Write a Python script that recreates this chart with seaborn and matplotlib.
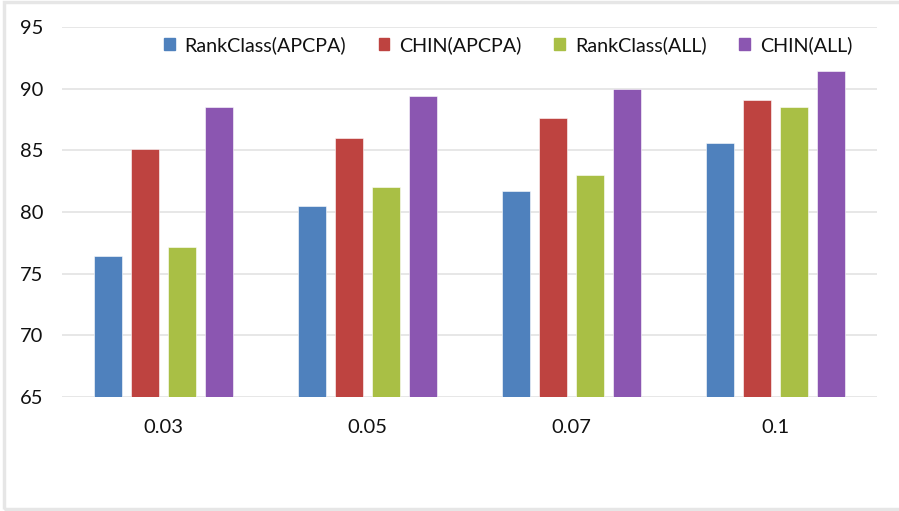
import matplotlib
matplotlib.use("Agg")
import matplotlib.pyplot as plt
import seaborn as sns
import pandas as pd
from matplotlib.patches import Rectangle

thresholds = ["0.03", "0.05", "0.07", "0.1"]
methods = ["RankClass(APCPA)", "CHIN(APCPA)", "RankClass(ALL)", "CHIN(ALL)"]
rankclass_apcpa = [76.4, 80.5, 81.7, 85.6]
chin_apcpa = [85.1, 86.0, 87.6, 89.1]
rankclass_all = [77.2, 82.0, 83.0, 88.5]
chin_all = [88.5, 89.4, 90.0, 91.4]
yticks = [65, 70, 75, 80, 85, 90, 95]

colors = ["#4F81BD", "#BE4340", "#A9BF45", "#8B56B1"]

series = [rankclass_apcpa, chin_apcpa, rankclass_all, chin_all]
rows = []
for m, vals in zip(methods, series):
    for t, v in zip(thresholds, vals):
        rows.append({"threshold": t, "method": m, "value": v})
df = pd.DataFrame(rows)

sns.set_theme(style="white")
plt.rcParams["font.family"] = ["Lato", "DejaVu Sans"]

fig = plt.figure(figsize=(8.99, 5.11), dpi=100)
ax = fig.add_axes([62 / 899, 114 / 511, 815 / 899, 370 / 511])

sns.barplot(data=df, x="threshold", y="value", hue="method", order=thresholds,
            hue_order=methods, palette=colors, width=0.726, gap=0.24,
            saturation=1, errorbar=None, ax=ax, legend=False, zorder=3,
            edgecolor="white", linewidth=0.4)

ax.set_ylim(65, 95)
ax.set_yticks(yticks)
ax.set_yticklabels([str(v) for v in yticks])
ax.set_xlim(-0.5, len(thresholds) - 0.5)
ax.set_xlabel("")
ax.set_ylabel("")
for s in ax.spines.values():
    s.set_visible(False)
ax.yaxis.grid(True, color="#e3e3e3", linewidth=1.2, zorder=0)
ax.set_axisbelow(True)
ax.tick_params(axis="both", length=0, labelsize=14.5, colors="#111111")
ax.tick_params(axis="y", pad=13.5)
ax.tick_params(axis="x", pad=16)

handles = [Rectangle((0, 0), 1, 1, color=c) for c in colors]
fig.legend(handles, methods, loc="center", bbox_to_anchor=(508 / 899, 1 - 45 / 511),
           ncol=4, frameon=False, fontsize=14.2, handlelength=0.55, handleheight=0.55,
           handletextpad=0.5, columnspacing=1.65, labelcolor="#111111")

# light outer frame around the chart
fig.add_artist(Rectangle((4 / 899, 2 / 511), 1.2, 507 / 511, transform=fig.transFigure,
                         fill=False, edgecolor="#e6e6e6", linewidth=2.5))

fig.savefig("out.png", dpi=100, facecolor="white")
